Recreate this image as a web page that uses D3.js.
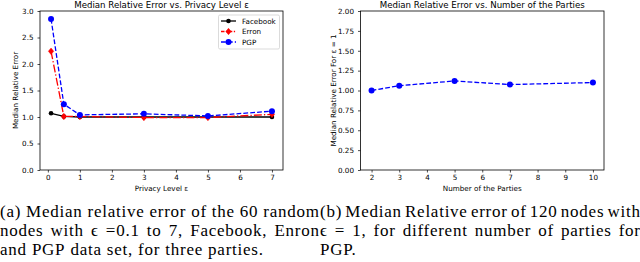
<!DOCTYPE html>
<html><head><meta charset="utf-8">
<script src="https://cdn.jsdelivr.net/npm/d3@7"></script>
<style>
html,body{margin:0;padding:0;background:#fff;}
svg{display:block;}
</style></head>
<body>
<svg id="c" width="640" height="262"></svg>
<script>
// ---- Data ----
const epsilon = [0.1, 0.5, 1, 3, 5, 7];
const facebook = [1.07, 1.01, 1.00, 1.00, 1.00, 1.00];
const erron = [2.24, 1.01, 1.01, 0.99, 0.99, 1.05];
const pgp = [2.85, 1.24, 1.04, 1.06, 1.02, 1.11];
const leftXTicks = [0, 1, 2, 3, 4, 5, 6, 7];
const leftYTicks = [0, 0.5, 1, 1.5, 2, 2.5, 3];

const parties = [2, 3, 5, 7, 10];
const pgpParties = [1.00, 1.06, 1.12, 1.075, 1.10];
const rightXTicks = [2, 3, 4, 5, 6, 7, 8, 9, 10];
const rightYTicks = [0, 0.25, 0.5, 0.75, 1, 1.25, 1.5, 1.75, 2];

const leftTitle = "Median Relative Error vs. Privacy Level ε";
const leftXLabel = "Privacy Level ε";
const leftYLabel = "Median Relative Error";
const rightTitle = "Median Relative Error vs. Number of the Parties";
const rightXLabel = "Number of the Parties";
const rightYLabel = "Median Relative  Error For ε = 1";
const seriesNames = ["Facebook", "Erron", "PGP"];

const captionLines = [
  {t: "(a) Median relative error of the 60 random", x0: 0, x1: 319, y: 216.5, j: true},
  {t: "nodes with ϵ =0.1 to 7, Facebook, Enron", x0: 0, x1: 319, y: 235.7, j: true},
  {t: "and PGP data set, for three parties.", x0: 0, y: 254.9, j: false},
  {t: "(b) Median Relative error of 120 nodes with", x0: 320, x1: 640, y: 216.5, j: true},
  {t: "ϵ = 1, for different number of parties for", x0: 320, x1: 640, y: 235.7, j: true},
  {t: "PGP.", x0: 320, y: 254.9, j: false}
];

// ---- Drawing ----
const svg = d3.select("#c");
const FONT = "DejaVu Sans, sans-serif";
const FS = 7.2;
const LW = 1.3;

function panel(opt) {
  const g = svg.append("g");
  const x = d3.scaleLinear().domain(opt.xdom).range([opt.left, opt.right]);
  const y = d3.scaleLinear().domain(opt.ydom).range([opt.bottom, opt.top]);

  const xa = g.append("g").attr("transform", `translate(0,${opt.bottom})`)
    .call(d3.axisBottom(x).tickValues(opt.xticks).tickSize(2.5).tickPadding(2.7).tickFormat(opt.xfmt));
  const ya = g.append("g").attr("transform", `translate(${opt.left},0)`)
    .call(d3.axisLeft(y).tickValues(opt.yticks).tickSize(2.5).tickPadding(4).tickFormat(opt.yfmt));
  [xa, ya].forEach(a => {
    a.select(".domain").remove();
    a.selectAll("line").attr("stroke", "#000").attr("stroke-width", 0.7);
    a.selectAll("text").attr("font-family", FONT).attr("font-size", FS).attr("fill", "#000");
  });

  g.append("rect").attr("x", opt.left).attr("y", opt.top)
    .attr("width", opt.right - opt.left).attr("height", opt.bottom - opt.top)
    .attr("fill", "none").attr("stroke", "#000").attr("stroke-width", 0.8);

  g.append("text").attr("x", (opt.left + opt.right) / 2).attr("y", 8.3)
    .attr("text-anchor", "middle").attr("font-family", FONT).attr("font-size", 8.64)
    .text(opt.title);
  g.append("text").attr("x", (opt.left + opt.right) / 2).attr("y", 190.5)
    .attr("text-anchor", "middle").attr("font-family", FONT).attr("font-size", FS)
    .text(opt.xlabel);
  g.append("text").attr("transform", `translate(${opt.ylx},${(opt.top + opt.bottom) / 2}) rotate(-90)`)
    .attr("text-anchor", "middle").attr("font-family", FONT).attr("font-size", FS)
    .text(opt.ylabel);
  return {g, x, y};
}

function series(p, xs, ys, color, dash, marker, r) {
  const pts = xs.map((d, i) => [d, ys[i]]);
  p.g.append("path").datum(pts)
    .attr("d", d3.line().x(d => p.x(d[0])).y(d => p.y(d[1])))
    .attr("fill", "none").attr("stroke", color).attr("stroke-width", LW)
    .attr("stroke-dasharray", dash);
  drawMarkers(p.g, pts.map(d => [p.x(d[0]), p.y(d[1])]), color, marker, r);
}

function drawMarkers(g, pts, color, marker, r) {
  pts.forEach(([cx, cy]) => {
    if (marker === "D") {
      g.append("path").attr("d", `M${cx},${cy - r * 1.15}L${cx + r * 0.95},${cy}L${cx},${cy + r * 1.15}L${cx - r * 0.95},${cy}Z`)
        .attr("fill", color).attr("stroke", color).attr("stroke-width", 0.5);
    } else {
      g.append("circle").attr("cx", cx).attr("cy", cy).attr("r", r).attr("fill", color);
    }
  });
}

// Left panel
const L = panel({left: 40, right: 283, top: 11, bottom: 170,
  xdom: [-0.245, 7.345], ydom: [0, 3], xticks: leftXTicks, yticks: leftYTicks,
  xfmt: d3.format("d"), yfmt: d3.format(".1f"),
  title: leftTitle, xlabel: leftXLabel, ylabel: leftYLabel, ylx: 18.3});

const styles = [
  {c: "#000000", dash: null, m: "o", r: 2.3},
  {c: "#ff0000", dash: "8,2.1,1.3,2.1", m: "D", r: 2.8},
  {c: "#0000ff", dash: "4.8,2.1", m: "o", r: 3.0}
];
const leftData = [facebook, erron, pgp];
leftData.forEach((s, i) => series(L, epsilon, s, styles[i].c, styles[i].dash, styles[i].m, styles[i].r));

// Legend
const lg = L.g.append("g");
lg.append("rect").attr("x", 218.5).attr("y", 15).attr("width", 61).attr("height", 34)
  .attr("rx", 1.5).attr("fill", "#fff").attr("fill-opacity", 0.8)
  .attr("stroke", "#cccccc").attr("stroke-width", 0.7);
seriesNames.forEach((n, i) => {
  const yy = 21 + i * 10.5;
  lg.append("line").attr("x1", 221).attr("x2", 236).attr("y1", yy).attr("y2", yy)
    .attr("stroke", styles[i].c).attr("stroke-width", LW).attr("stroke-dasharray", i === 1 ? "3.5,1.5,1.3,1.5" : styles[i].dash);
  drawMarkers(lg, [[228.5, yy]], styles[i].c, styles[i].m, styles[i].r);
  lg.append("text").attr("x", 242).attr("y", yy + 2.6).attr("font-family", FONT).attr("font-size", FS).text(n);
});

// Right panel
const R = panel({left: 360.5, right: 604, top: 11, bottom: 170,
  xdom: [1.6, 10.4], ydom: [0, 2], xticks: rightXTicks, yticks: rightYTicks,
  xfmt: d3.format("d"), yfmt: d3.format(".2f"),
  title: rightTitle, xlabel: rightXLabel, ylabel: rightYLabel, ylx: 335.6});
series(R, parties, pgpParties, "#0000ff", "4.8,2.1", "o", 3.0);

// Captions (justified word layout)
const CFONT = "Liberation Serif, Times New Roman, serif";
const CFS = 17;
const CLS = 0.75;
captionLines.forEach(L0 => {
  const words = L0.t.split(" ");
  const tmp = svg.append("text").attr("font-family", CFONT).attr("font-size", CFS)
    .attr("letter-spacing", CLS);
  const widths = words.map(w => { tmp.text(w); return tmp.node().getComputedTextLength(); });
  tmp.text("a a");
  const twoA = tmp.node().getComputedTextLength();
  tmp.text("aa");
  const spW = Math.max(twoA - tmp.node().getComputedTextLength(), CFS * 0.3);
  tmp.remove();
  const total = d3.sum(widths);
  let gap = spW;
  if (L0.j && words.length > 1) gap = (L0.x1 - L0.x0 - total + CLS) / (words.length - 1);
  let cx = L0.x0;
  words.forEach((w, i) => {
    svg.append("text").attr("x", cx).attr("y", L0.y).attr("font-family", CFONT)
      .attr("font-size", CFS).attr("letter-spacing", CLS).attr("fill", "#000").text(w);
    cx += widths[i] + gap;
  });
});
</script>
</body></html>
